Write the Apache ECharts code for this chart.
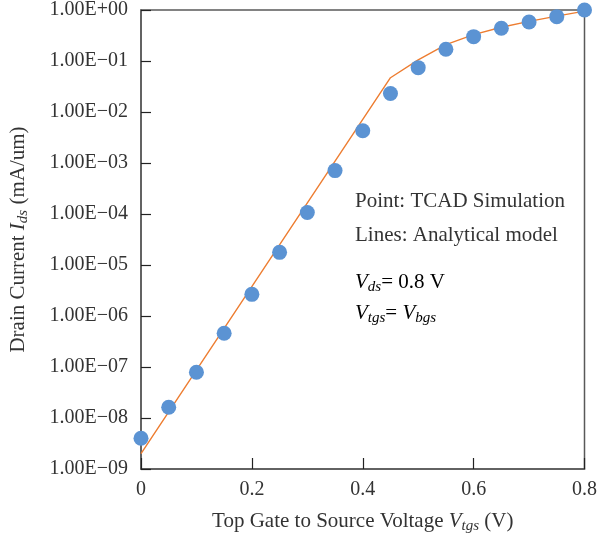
<!DOCTYPE html>
<html>
<head>
<meta charset="utf-8">
<script src="https://cdn.jsdelivr.net/npm/echarts@6/dist/echarts.min.js"></script>
<style>
  html, body { margin: 0; padding: 0; background: #fff; }
  #main { width: 600px; height: 542px; }
</style>
</head>
<body>
<div id="main"></div>
<script>
// TCAD simulation points (Vtgs in V, Ids in mA/um)
const tcadVgs = [0, 0.05, 0.1, 0.15, 0.2, 0.25, 0.3, 0.35, 0.4, 0.45, 0.5, 0.55, 0.6, 0.65, 0.7, 0.75, 0.8];
const tcadIds = [4.0e-9, 1.63e-8, 7.9e-8, 4.6e-7, 2.66e-6, 1.77e-5, 1.07e-4, 7.1e-4, 4.3e-3, 0.023, 0.074, 0.17, 0.30, 0.44, 0.58, 0.74, 1.0];

// analytical model line
const modelVgs = [0, 0.45, 0.5, 0.55, 0.6, 0.65, 0.7, 0.75, 0.8];
const modelIds = [2.0e-9, 0.047, 0.105, 0.21, 0.33, 0.46, 0.6, 0.76, 0.95];

const xTicks = [0, 0.2, 0.4, 0.6, 0.8];

const FONT = '"Liberation Serif", "DejaVu Serif", serif';
const TXT = '#333';
const AXIS = '#595959';

const chart = echarts.init(document.getElementById('main'));

const subRich = {
    it: { fontFamily: FONT, fontSize: 21, fontStyle: 'italic', color: TXT },
    sub: { fontFamily: FONT, fontSize: 15, fontStyle: 'italic', color: TXT, padding: [10, 0, 0, 0] },
    n: { fontFamily: FONT, fontSize: 21, color: TXT }
};

function sciLabel(v) {
    const e = Math.round(Math.log10(v));
    const s = e < 0 ? '\u2212' : '+';
    const a = Math.abs(e);
    return '1.00E' + s + (a < 10 ? '0' + a : a);
}

chart.setOption({
    animation: false,
    grid: {
        left: 141, right: 10, top: 9, bottom: 73,
        show: true, borderColor: AXIS, borderWidth: 1.5
    },
    xAxis: {
        type: 'value',
        min: xTicks[0],
        max: xTicks[xTicks.length - 1],
        interval: 0.2,
        axisLine: { lineStyle: { color: AXIS, width: 1.5 } },
        axisTick: { inside: true, length: 11, lineStyle: { color: '#222', width: 1.2 } },
        splitLine: { show: false },
        axisLabel: { fontFamily: FONT, fontSize: 20, color: TXT, margin: 11 },
        name: '{n|Top Gate to Source Voltage }{it|V}{sub|tgs}{n| (V)}',
        nameLocation: 'middle',
        nameGap: 40,
        nameTextStyle: { rich: subRich }
    },
    yAxis: {
        type: 'log',
        logBase: 10,
        min: 1e-9,
        max: 1,
        interval: 1,
        axisLine: { lineStyle: { color: AXIS, width: 1.5 } },
        axisTick: { inside: true, length: 10, lineStyle: { color: '#222', width: 1.2 } },
        splitLine: { show: false },
        minorTick: { show: false },
        axisLabel: { fontFamily: FONT, fontSize: 20, color: TXT, margin: 13, formatter: sciLabel },
        name: '{n|Drain Current }{it|I}{sub|ds}{n| (mA/um)}',
        nameLocation: 'middle',
        nameRotate: 90,
        nameGap: 110,
        nameTextStyle: { rich: subRich }
    },
    graphic: [
        { type: 'text', left: 355, top: 191, style: { text: 'Point: TCAD Simulation', font: '21px ' + FONT, fill: TXT } },
        { type: 'text', left: 355, top: 225, style: { text: 'Lines: Analytical model', font: '21px ' + FONT, fill: TXT } },
        { type: 'text', left: 355, top: 272, style: { text: '{it|V}{sub|ds}{n|= 0.8 V}', rich: subRich } },
        { type: 'text', left: 355, top: 303, style: { text: '{it|V}{sub|tgs}{n|= }{it|V}{sub|bgs}', rich: subRich } }
    ],
    series: [
        {
            name: 'Analytical model',
            type: 'line',
            data: modelVgs.map((x, i) => [x, modelIds[i]]),
            showSymbol: false,
            lineStyle: { color: '#ed7d31', width: 1.4 },
            z: 2
        },
        {
            name: 'TCAD Simulation',
            type: 'scatter',
            data: tcadVgs.map((x, i) => [x, tcadIds[i]]),
            symbolSize: 15,
            itemStyle: { color: '#5b93d3', opacity: 1 },
            z: 3
        }
    ]
});
</script>
</body>
</html>
